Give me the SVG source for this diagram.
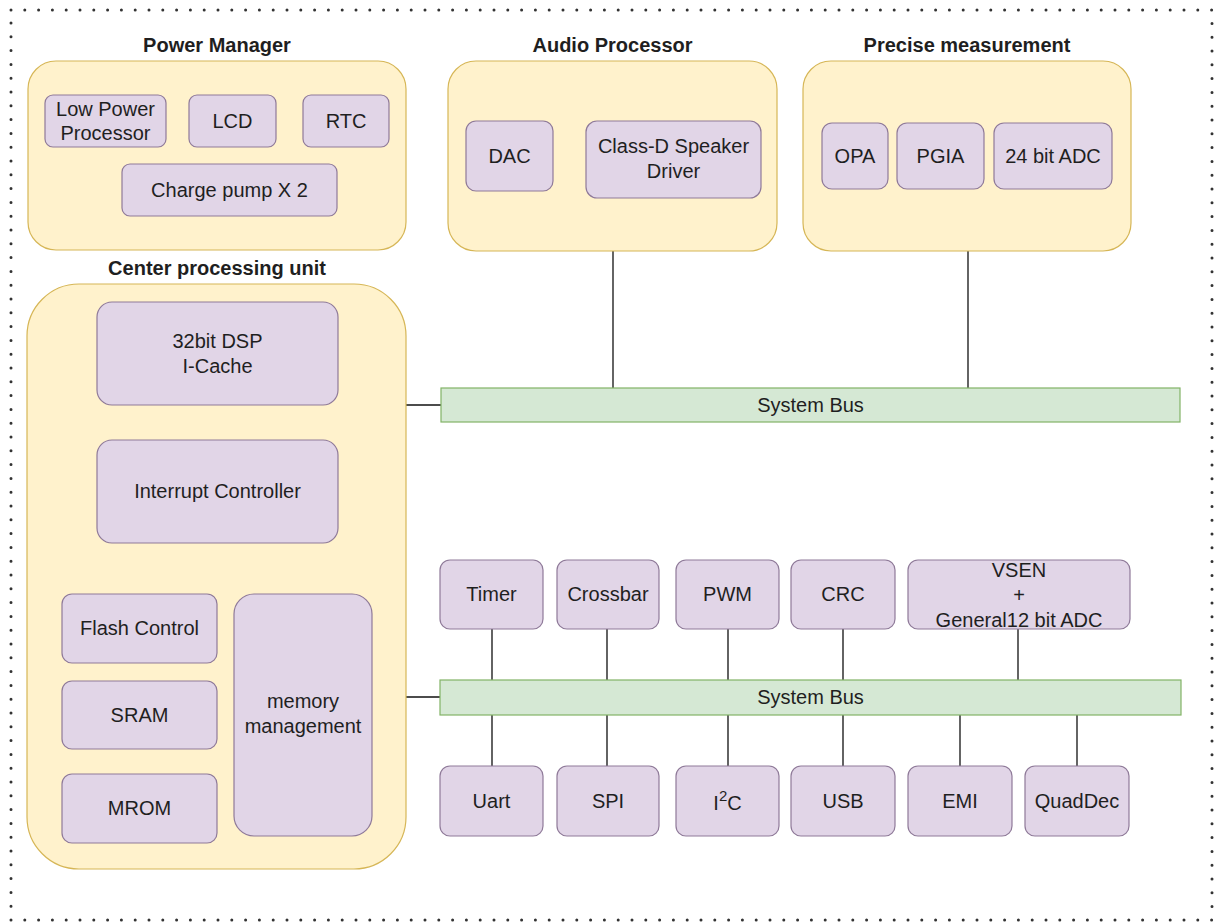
<svg xmlns="http://www.w3.org/2000/svg" width="1215" height="922" viewBox="0 0 1215 922">
<style>
text{font-family:"Liberation Sans",Arial,sans-serif;font-size:20px;fill:#1f1f1f;text-anchor:middle}
.title{font-weight:bold}
.cont{fill:#fff2cc;stroke:#d6b656;stroke-width:1.2}
.node{fill:#e1d5e7;stroke:#8f7a99;stroke-width:1.2}
.bus{fill:#d5e8d4;stroke:#82b366;stroke-width:1.2}
.conn{stroke:#111;stroke-width:1.3;fill:none}
.border{fill:none;stroke:#333;stroke-width:3;stroke-dasharray:0 13.8;stroke-linecap:round}
</style>
<rect width="1215" height="922" fill="#ffffff"/>
<rect class="border" x="11" y="10" width="1201" height="910"/>

<g id="connectors">
<path class="conn" d="M406,405 H441"/>
<path class="conn" d="M406,697 H440"/>
<path class="conn" d="M613,251 V388"/>
<path class="conn" d="M968,251 V388"/>
<path class="conn" d="M492,629 V680 M492,715 V766"/>
<path class="conn" d="M607,629 V680 M607,715 V766"/>
<path class="conn" d="M728,629 V680 M728,715 V766"/>
<path class="conn" d="M843,629 V680 M843,715 V766"/>
<path class="conn" d="M1018,629 V680"/>
<path class="conn" d="M960,715 V766"/>
<path class="conn" d="M1077,715 V766"/>
</g>

<g id="power-manager">
<text class="title" x="217" y="52">Power Manager</text>
<rect class="cont" x="28" y="61" width="378" height="189" rx="28"/>
</g>
<g id="low-power-processor"><rect class="node" x="45" y="95" width="121" height="52" rx="8"/><text x="105.5" y="116">Low Power</text><text x="105.5" y="140">Processor</text></g>
<g id="lcd"><rect class="node" x="189" y="95" width="87" height="52" rx="8"/><text x="232.5" y="128">LCD</text></g>
<g id="rtc"><rect class="node" x="303" y="95" width="86" height="52" rx="8"/><text x="346" y="128">RTC</text></g>
<g id="charge-pump"><rect class="node" x="122" y="164" width="215" height="52" rx="8"/><text x="229.5" y="197">Charge pump X 2</text></g>

<g id="audio-processor">
<text class="title" x="612.5" y="52">Audio Processor</text>
<rect class="cont" x="448" y="61" width="329" height="190" rx="28"/>
</g>
<g id="dac"><rect class="node" x="466" y="121" width="87" height="70" rx="10"/><text x="509.5" y="163">DAC</text></g>
<g id="class-d"><rect class="node" x="586" y="121" width="175" height="77" rx="11"/><text x="673.5" y="153">Class-D Speaker</text><text x="673.5" y="178">Driver</text></g>

<g id="precise-measurement">
<text class="title" x="967" y="52">Precise measurement</text>
<rect class="cont" x="803" y="61" width="328" height="190" rx="28"/>
</g>
<g id="opa"><rect class="node" x="822" y="123" width="66" height="66" rx="10"/><text x="855" y="163">OPA</text></g>
<g id="pgia"><rect class="node" x="897" y="123" width="87" height="66" rx="10"/><text x="940.5" y="163">PGIA</text></g>
<g id="adc24"><rect class="node" x="994" y="123" width="118" height="66" rx="10"/><text x="1053" y="163">24 bit ADC</text></g>

<g id="cpu">
<text class="title" x="217" y="275">Center processing unit</text>
<rect class="cont" x="27" y="284" width="379" height="585" rx="52"/>
</g>
<g id="dsp"><rect class="node" x="97" y="302" width="241" height="103" rx="15"/><text x="217.5" y="348">32bit DSP</text><text x="217.5" y="373">I-Cache</text></g>
<g id="interrupt"><rect class="node" x="97" y="440" width="241" height="103" rx="15"/><text x="217.5" y="498">Interrupt Controller</text></g>
<g id="flash"><rect class="node" x="62" y="594" width="155" height="69" rx="10"/><text x="139.5" y="635">Flash Control</text></g>
<g id="sram"><rect class="node" x="62" y="681" width="155" height="68" rx="10"/><text x="139.5" y="722">SRAM</text></g>
<g id="mrom"><rect class="node" x="62" y="774" width="155" height="69" rx="10"/><text x="139.5" y="815">MROM</text></g>
<g id="memory"><rect class="node" x="234" y="594" width="138" height="242" rx="20"/><text x="303" y="708">memory</text><text x="303" y="733">management</text></g>

<g id="system-bus-1"><rect class="bus" x="441" y="388" width="739" height="34"/><text x="810.5" y="412">System Bus</text></g>
<g id="system-bus-2"><rect class="bus" x="440" y="680" width="741" height="35"/><text x="810.5" y="704">System Bus</text></g>

<g id="timer"><rect class="node" x="440" y="560" width="103" height="69" rx="10"/><text x="491.5" y="601">Timer</text></g>
<g id="crossbar"><rect class="node" x="557" y="560" width="102" height="69" rx="10"/><text x="608" y="601">Crossbar</text></g>
<g id="pwm"><rect class="node" x="676" y="560" width="103" height="69" rx="10"/><text x="727.5" y="601">PWM</text></g>
<g id="crc"><rect class="node" x="791" y="560" width="104" height="69" rx="10"/><text x="843" y="601">CRC</text></g>
<g id="vsen"><rect class="node" x="908" y="560" width="222" height="69" rx="10"/><text x="1019" y="577">VSEN</text><text x="1019" y="602">+</text><text x="1019" y="627">General12 bit ADC</text></g>

<g id="uart"><rect class="node" x="440" y="766" width="103" height="70" rx="10"/><text x="491.5" y="808">Uart</text></g>
<g id="spi"><rect class="node" x="557" y="766" width="102" height="70" rx="10"/><text x="608" y="808">SPI</text></g>
<g id="i2c"><rect class="node" x="676" y="766" width="103" height="70" rx="10"/><text x="727.5" y="810">I<tspan font-size="15" dy="-9">2</tspan><tspan dy="9">C</tspan></text></g>
<g id="usb"><rect class="node" x="791" y="766" width="104" height="70" rx="10"/><text x="843" y="808">USB</text></g>
<g id="emi"><rect class="node" x="908" y="766" width="104" height="70" rx="10"/><text x="960" y="808">EMI</text></g>
<g id="quaddec"><rect class="node" x="1025" y="766" width="104" height="70" rx="10"/><text x="1077" y="808">QuadDec</text></g>
</svg>
